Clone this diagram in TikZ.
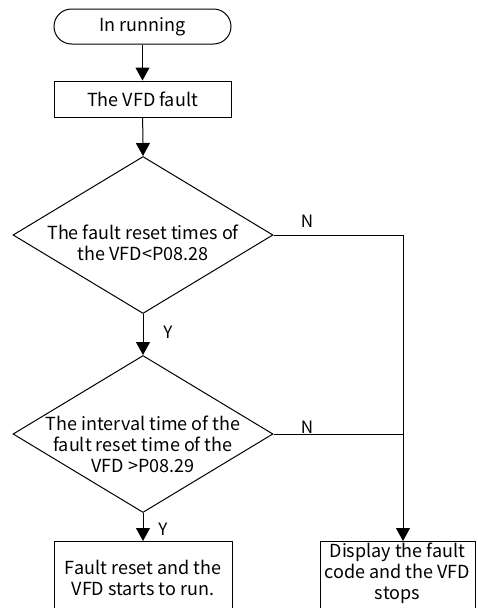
\documentclass[tikz,border=0pt]{standalone}
\usepackage{fontspec}
\setmainfont{Noto Sans CJK SC}
\usetikzlibrary{shapes.geometric,shapes.misc,arrows.meta}
\begin{document}
\begin{tikzpicture}[x=1pt,y=-1pt,
  every node/.style={font=\fontsize{18}{21}\selectfont, align=center, inner sep=0pt},
  line/.style={draw=black, line width=1pt},
  arr/.style={line, -{Triangle[width=14pt,length=13pt]}},
  term/.style={line, rounded rectangle, minimum width=177pt, minimum height=35pt},
  proc/.style={line, rectangle, minimum width=177pt, minimum height=36pt},
  dec/.style={line, diamond, minimum width=260pt, minimum height=157pt},
  lbl/.style={font=\fontsize{17}{20}\selectfont}]
\useasboundingbox (0,0) rectangle (477,608);
\node[term] (start) at (142.5,26.5) {In running};
\node[proc] (fault) at (142.5,99) {The VFD fault};
\node[dec] (d1) at (143,235) {};
\node (td1) at (143,243) {The fault reset times of\\the VFD<P08.28};
\node[dec] (d2) at (143,434) {};
\node (td2) at (143,444) {The interval time of the\\fault reset time of the\\VFD >P08.29};
\node[line, rectangle, minimum width=178pt, minimum height=90pt, anchor=north] (b1) at (143,541) {};
\node (t1) at (143,578) {Fault reset and the\\VFD starts to run.};
\node[line, rectangle, minimum width=155pt, minimum height=90pt, anchor=north] (b2) at (397.5,541) {};
\node (t2) at (397.5,573) {Display the fault\\code and the VFD\\stops};
\coordinate (j1) at (403,235);
\coordinate (j2) at (403,434);
\draw[arr] (start) -- (fault);
\draw[arr] (fault) -- (d1.north);
\draw[arr] (d1.south) -- (d2.north);
\draw[arr] (d2.south) -- (b1.north);
\draw[line] (d1.east) -- (j1);
\draw[line] (d2.east) -- (j2);
\draw[arr] (j1) -- (j1 |- b2.north);
\node[lbl] (n1) at (307,221) {N};
\node[lbl] (n2) at (307,427) {N};
\node[lbl] (y1) at (168,332) {Y};
\node[lbl] (y2) at (163,529) {Y};
\end{tikzpicture}
\end{document}
